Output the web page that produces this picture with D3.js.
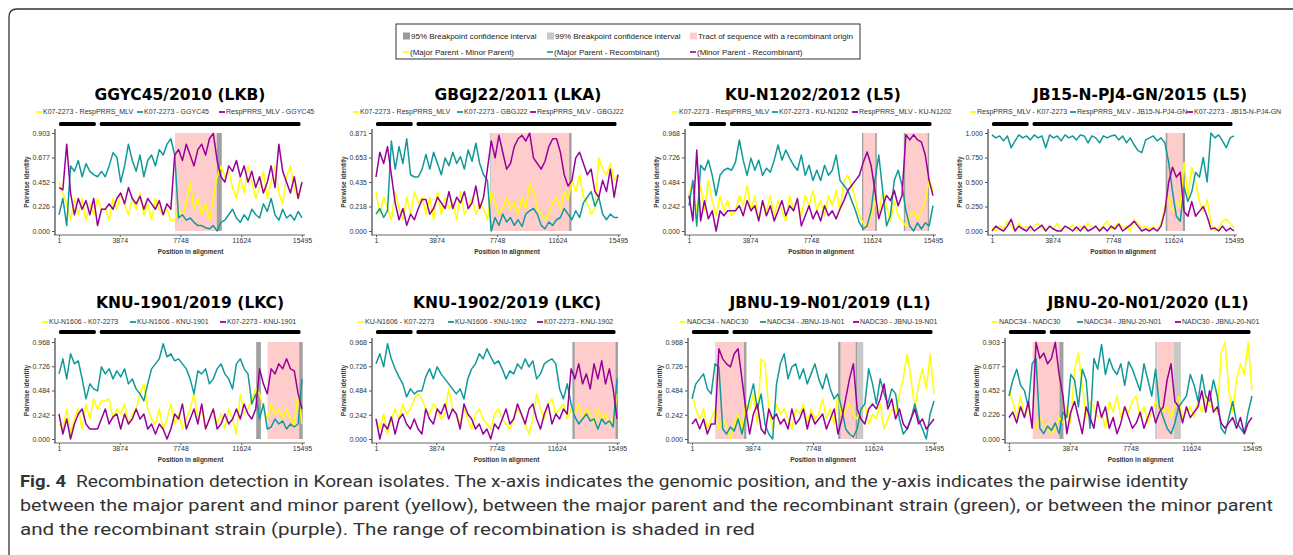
<!DOCTYPE html>
<html>
<head>
<meta charset="utf-8">
<title>Fig. 4 Recombination detection in Korean isolates</title>
<script src="https://cdn.jsdelivr.net/npm/d3@7"></script>
<style>
  body { margin: 0; background: #fff; }
  svg { display: block; font-family: "Liberation Sans", Arial, sans-serif; }
  .title { font-family: "DejaVu Sans", Verdana, sans-serif; font-weight: bold; font-size: 15.5px; text-anchor: middle; fill: #000; }
  .leg { font-size: 7px; fill: #333; }
  .key { font-size: 8px; fill: #222; }
  .tick text { font-size: 7px; fill: #333; font-family: "Liberation Sans", Arial, sans-serif; }
  .axlab { font-size: 6.5px; font-weight: bold; fill: #333; text-anchor: middle; }
  .caption { font-family: "Liberation Sans Narrow", Roboto, sans-serif; font-size: 17px; fill: #333; }
</style>
</head>
<body>
<script>
// ---- data ----
var titles = ['GGYC45/2010 (LKB)', 'GBGJ22/2011 (LKA)', 'KU-N1202/2012 (L5)', 'JB15-N-PJ4-GN/2015 (L5)',
  'KNU-1901/2019 (LKC)', 'KNU-1902/2019 (LKC)', 'JBNU-19-N01/2019 (L1)', 'JBNU-20-N01/2020 (L1)'];

var pairLabels = [
  ['K07-2273 - RespPRRS_MLV', 'K07-2273 - GGYC45', 'RespPRRS_MLV - GGYC45'],
  ['K07-2273 - RespPRRS_MLV', 'K07-2273 - GBGJ22', 'RespPRRS_MLV - GBGJ22'],
  ['K07-2273 - RespPRRS_MLV', 'K07-2273 - KU-N1202', 'RespPRRS_MLV - KU-N1202'],
  ['RespPRRS_MLV - K07-2273', 'RespPRRS_MLV - JB15-N-PJ4-GN', 'K07-2273 - JB15-N-PJ4-GN'],
  ['KU-N1606 - K07-2273', 'KU-N1606 - KNU-1901', 'K07-2273 - KNU-1901'],
  ['KU-N1606 - K07-2273', 'KU-N1606 - KNU-1902', 'K07-2273 - KNU-1902'],
  ['NADC34 - NADC30', 'NADC34 - JBNU-19-N01', 'NADC30 - JBNU-19-N01'],
  ['NADC34 - NADC30', 'NADC34 - JBNU-20-N01', 'NADC30 - JBNU-20-N01']
];

var yTicks = [
  [0, 0.226, 0.452, 0.677, 0.903],
  [0, 0.218, 0.435, 0.653, 0.871],
  [0, 0.242, 0.484, 0.726, 0.968],
  [0, 0.25, 0.5, 0.75, 1.0],
  [0, 0.242, 0.484, 0.726, 0.968],
  [0, 0.242, 0.484, 0.726, 0.968],
  [0, 0.242, 0.484, 0.726, 0.968],
  [0, 0.226, 0.452, 0.677, 0.903]
];

var xTicks = [1, 3874, 7748, 11624, 15495];
var genomeMap = [[1, 2350], [2600, 15400]];

// major parent - minor parent (yellow)
var majorMinor = [
  [.45,.35,.25,.1,.3,.15,.3,.1,.25,.15,.3,.2,.2,.1,.3,.2,.35,.25,.15,.3,.2,.35,.15,.25,.1,.3,.2,.15,.2,.1,.1,.2,.15,.25,.45,.2,.3,.15,.25,.1,.3,.5,.6,.5,.55,.4,.3,.5,.35,.6,.45,.3,.4,.55,.3,.45,.6,.35,.25,.5,.6,.4,.3,.45],
  [.35,.15,.3,.2,.1,.35,.2,.1,.3,.15,.35,.25,.3,.15,.3,.1,.35,.15,.3,.2,.25,.1,.35,.15,.2,.3,.15,.25,.2,.1,.35,.25,.15,.2,.3,.2,.25,.15,.3,.2,.42,.35,.2,.15,.1,.15,.25,.3,.2,.35,.28,.45,.35,.5,.3,.25,.15,.2,.65,.55,.5,.6,.45,.5],
  [.35,.5,.2,.45,.2,.5,.3,.15,.35,.2,.3,.15,.2,.35,.25,.45,.2,.35,.1,.3,.2,.35,.15,.3,.2,.1,.35,.2,.3,.15,.35,.25,.4,.2,.3,.15,.35,.25,.4,.2,.5,.55,.45,.3,.15,.08,.05,.15,.3,.15,.4,.25,.1,.3,.15,.1,.05,.15,.2,.12,.2,.3,.5,.4],
  [.03,0,.05,.02,.1,.05,0,.08,.03,.05,0,.05,.08,.03,0,.05,.02,.08,0,.05,.03,.06,0,.05,.02,.08,.03,.05,0,.06,.1,.02,.05,.08,.03,.05,0,.12,.08,.03,.05,.02,.05,0,.08,.25,.35,.2,.3,.25,.7,.35,.65,.5,.3,.2,.32,.08,0,.03,.1,.12,.08,.03],
  [.15,.1,.3,.05,.2,.3,.1,.35,.2,.4,.3,.38,.38,.4,.2,.3,.25,.35,.15,.25,.3,.45,.55,.3,.2,.15,.3,.1,.2,.35,.15,.25,.1,.2,.3,.45,.2,.3,.1,.2,.3,.15,.25,.1,.3,.2,.05,.45,.25,.3,.4,.5,.45,.3,.2,.35,.25,.3,.2,.3,.2,.15,.45,.15],
  [.2,.1,.25,.05,.2,.3,.2,.35,.25,.3,.4,.45,.4,.3,.25,.35,.3,.2,.25,.5,.3,.25,.15,.3,.2,.1,.25,.3,.2,.15,.1,.25,.3,.2,.15,.1,.2,.3,.25,.15,.05,.2,.45,.3,.2,.35,.4,.25,.3,.35,.2,.3,.25,.35,.2,.3,.25,.15,.3,.2,.25,.15,.2,.45],
  [.45,.3,.2,.3,.1,.2,.3,.1,.2,.15,0,.15,.25,.1,.35,.3,.45,.15,.8,.75,.3,.1,.35,.25,.3,.2,.1,.3,.25,.35,.15,.3,.2,.25,.4,.2,.3,.15,.45,.2,.3,.35,.25,.2,.3,.35,.15,.25,.2,.35,.1,.2,.3,.25,.45,.6,.85,.6,.3,.55,.7,.5,.85,.45],
  [.45,.35,.2,.4,.2,.3,.15,.1,.2,.15,.1,.05,.1,.2,.15,.3,.15,.65,.8,.5,.2,.35,.3,.2,.25,.1,.35,.25,.4,.2,.3,.25,.35,.4,.2,.3,.15,.25,.35,.3,.25,.3,.2,.3,.4,.2,.25,.3,.2,.35,.25,.4,.3,.3,.25,.8,.9,.45,.25,.55,.7,.6,.9,.45]
];

// major parent - recombinant (teal)
var majorRecomb = [
  [.15,.3,.05,.6,.55,.65,.5,.62,.55,.52,.5,.55,.5,.6,.72,.68,.45,.6,.8,.65,.55,.7,.5,.65,.7,.6,.75,.7,.8,.85,.7,.12,.15,.1,.12,.08,.05,.05,.03,.02,.05,0,.08,.1,.15,.2,.12,.08,.15,.1,.2,.15,.12,.25,.18,.3,.15,.1,.2,.12,.15,.1,.18,.12],
  [.15,.2,.12,.18,.8,.55,.75,.6,.82,.5,.48,.48,.55,.68,.55,.7,.6,.5,.65,.58,.7,.6,.66,.55,.72,.62,.78,.6,.5,.45,0,.12,.05,.15,.08,.12,.05,.1,.04,.15,.18,.2,.15,.05,.02,.08,.05,.1,.12,.2,.15,.1,.18,.12,.25,.3,.35,.22,.3,.15,.1,.15,.12,.12],
  [.25,.5,.05,.65,.6,.7,.55,.35,.55,.6,.62,.6,.68,.9,.7,.55,.72,.6,.7,.55,.62,.58,.7,.85,.7,.8,.72,.65,.6,.75,.55,.65,.5,.6,.5,.65,.55,.6,.75,.5,.45,.4,.3,.2,.08,.02,.05,.2,.5,.75,.4,.05,.15,.5,.6,.45,.2,.05,0,.08,.02,.08,.05,.25],
  [.98,.95,.97,.92,.97,.85,.92,.98,.95,.97,.93,.98,.95,.97,.85,.98,.95,.97,.92,.98,.95,.97,.93,.98,.97,.9,.97,.95,.9,.97,.95,.97,.98,.93,.97,.9,.95,.88,.82,.8,.93,.95,.97,.92,.95,.9,.7,.4,.15,.1,.45,.3,.4,.6,.55,.75,.5,1.0,.95,.98,.92,.85,.95,.97],
  [.65,.8,.6,.85,.75,.78,.6,.4,.55,.5,.48,.72,.65,.7,.6,.68,.62,.7,.55,.6,.5,.45,.38,.55,.7,.75,.8,.95,.82,.85,.78,.8,.75,.7,.6,.45,.68,.65,.7,.55,.6,.7,.75,.65,.6,.5,.75,.8,.7,.65,.35,.45,.2,.35,.1,.12,.2,.15,.18,.1,.15,.12,.15,.6],
  [.75,.85,.72,.95,.8,.7,.62,.55,.42,.5,.45,.48,.48,.62,.7,.6,.72,.65,.6,.55,.5,.45,.5,.4,.6,.7,.75,.85,.8,.9,.82,.75,.78,.7,.6,.68,.65,.75,.7,.8,.72,.78,.6,.65,.75,.78,.8,.75,.5,.4,.55,.35,.22,.15,.2,.25,.18,.2,.1,.2,.15,.18,.12,.6],
  [.4,.55,.6,.65,.5,.45,.75,.72,.1,.05,.12,.08,.2,.05,.22,.4,.55,.3,.45,.15,.05,0,.55,.75,.85,.6,.72,.75,.6,.7,.55,.65,.75,.6,.5,.65,.5,.4,.45,.3,.1,.05,.02,.1,.3,.35,.7,.55,.35,.6,.45,.35,.5,.45,.2,.05,.1,.2,.35,.2,.1,0,.25,.38],
  [.4,.55,.65,.5,.45,.3,.7,.75,.1,.05,.12,.08,.15,.05,.25,.2,.6,.55,.3,.65,.55,.1,.75,.65,.88,.6,.75,.65,.6,.7,.5,.72,.65,.55,.45,.7,.55,.4,.65,.3,.2,.1,.05,.15,.3,.35,.4,.6,.5,.35,.6,.4,.35,.55,.4,.1,.05,.2,.35,.15,.1,.05,.25,.4]
];

// minor parent - recombinant (purple)
var minorRecomb = [
  [.4,.38,.8,.35,.15,.3,.2,.28,.15,.3,.05,.2,.2,.25,.2,.3,.35,.25,.4,.3,.25,.32,.2,.3,.25,.2,.28,.15,.25,.2,.7,.75,.65,.8,.7,.6,.75,.8,.7,.85,.9,.65,.5,.45,.6,.55,.65,.5,.6,.45,.55,.4,.5,.35,.45,.6,.4,.8,.55,.45,.35,.5,.3,.45],
  [.48,.7,.6,.75,.5,.25,.1,.2,.05,.15,.1,.2,.28,.28,.15,.2,.3,.25,.2,.35,.2,.3,.25,.35,.2,.25,.4,.2,.3,.55,.8,.65,.85,.7,.55,.6,.75,.82,.85,.8,.87,.65,.6,.55,.62,.75,.82,.82,.7,.5,.4,.45,.65,.7,.6,.5,.55,.35,.3,.45,.35,.55,.3,.5],
  [.35,.1,.8,.1,.3,.12,.2,0,.2,.15,.2,.2,.2,.25,.15,.3,.2,.25,.1,.3,.15,.25,.1,.2,.3,.15,.25,.2,.32,.05,.15,.25,.12,.2,.1,.25,.15,.2,.12,.22,.3,.4,.45,.5,.55,.68,.78,.65,.4,.12,.25,.35,.3,.4,.25,.35,.95,.9,.95,.9,.88,.75,.5,.35],
  [0,.05,.02,0,.05,.12,0,.05,.02,0,.05,0,.03,.06,0,.05,.02,0,0,.05,.03,0,.04,0,.05,0,.02,.05,0,.04,0,.05,.02,.07,0,.03,.06,.1,.05,0,.02,0,.03,0,.05,.2,.5,.65,.55,.6,.2,.15,.3,.15,.2,.25,.15,.02,.03,0,.05,0,.03,0],
  [.25,.05,.2,0,.15,.25,.3,.15,.1,.1,.1,.2,.3,.15,.22,.25,.1,.25,.15,.2,.3,.2,.25,.1,.15,.05,.15,.1,0,.1,.25,.2,.35,.1,.2,.3,.15,.35,.1,.2,.3,.1,.15,.25,.15,.2,.3,.2,.35,.25,.2,.3,.7,.55,.45,.7,.65,.75,.7,.8,.7,.68,.45,.3],
  [.2,0,.15,.1,.22,.05,.2,.25,.15,.1,.2,.1,.05,.3,.2,.15,.3,.25,.35,.2,.3,.25,.1,.35,.25,.2,.1,.15,.05,.1,0,.15,.1,.2,.3,.15,.2,.35,.25,.15,.3,.35,.2,.1,.25,.35,.15,.25,.2,.3,.25,.7,.6,.75,.55,.65,.5,.75,.6,.78,.55,.7,.5,.2],
  [.15,.2,.1,.2,.05,.15,.15,.9,.8,.75,.72,.85,.9,.6,.3,.05,.25,.35,.1,.05,.3,.2,.25,.15,.2,.1,.3,.15,.2,.3,.1,.25,.15,.2,.25,.1,.2,.3,.05,.2,.4,.6,.75,.3,.2,.15,.3,.35,.3,.4,.55,.3,.4,.2,.3,.15,.1,.2,.3,.15,.2,.1,.15,.2],
  [.2,.25,.15,.3,.2,.35,.1,.9,.75,.8,.7,.75,.9,.6,.4,.05,.25,.35,.2,.05,.3,.2,.1,.35,.2,.3,.1,.2,.05,.15,.3,.2,.1,.15,.25,.1,.2,.3,.15,.25,.3,.55,.7,.35,.3,.15,.3,.2,.25,.3,.45,.25,.45,.25,.3,.15,.1,.15,.2,.1,.2,.05,.15,.2]
];

// recombinant tracts and breakpoint confidence intervals (alignment positions)
var tracts = [
  [[7395, 10059]],
  [[7364, 12365]],
  [[11079, 11822], [13732, 15154]],
  [[11231, 12212]],
  [[13299, 15345]],
  [[12716, 15420]],
  [[1560, 3441], [9510, 10472]],
  [[1511, 3214], [9470, 10492]]
];
var ci95 = [
  [[10059, 10380]],
  [[12365, 12520]],
  [[10990, 11079], [11822, 11930], [13640, 13732], [15154, 15250]],
  [[11120, 11231], [12212, 12360]],
  [[12574, 12873], [15320, 15540]],
  [[12630, 12770], [15400, 15560]],
  [[3334, 3484], [9361, 9510], [10472, 10578]],
  [[3214, 3470]]
];
var ci99 = [
  [],
  [[7290, 7364]],
  [],
  [],
  [],
  [],
  [[1500, 1560], [10578, 10963]],
  [[9321, 9470], [10492, 10960]]
];

var seriesColors = ['#ffff00', '#119999', '#990099'];
var keyLabels = ['95% Breakpoint confidence interval', '99% Breakpoint confidence interval',
  'Tract of sequence with a recombinant origin',
  '(Major Parent - Minor Parent)', '(Major Parent - Recombinant)', '(Minor Parent - Recombinant)'];

// ---- layout ----
var rows = [
  { title: 100, leg: 112, bar: 124, top: 133, zero: 231 },
  { title: 308, leg: 322, bar: 332, top: 342, zero: 439 }
];
var panels = [
  { x0: 59, x1: 302, row: 0, tx: 180, lx: [36, 137, 219] },
  { x0: 376, x1: 618, row: 0, tx: 518, lx: [353, 457, 530] },
  { x0: 689, x1: 933, row: 0, tx: 813, lx: [672, 772, 852] },
  { x0: 992, x1: 1234, row: 0, tx: 1140, lx: [970, 1070, 1187] },
  { x0: 59, x1: 302, row: 1, tx: 190, lx: [42, 130, 220] },
  { x0: 376, x1: 617, row: 1, tx: 507, lx: [358, 448, 537] },
  { x0: 692, x1: 934, row: 1, tx: 830, lx: [680, 760, 853] },
  { x0: 1009, x1: 1252, row: 1, tx: 1148, lx: [992, 1077, 1175] }
];

var svg = d3.select('body').append('svg')
  .attr('width', 1293)
  .attr('height', 555);

// outer frame
svg.append('path')
  .attr('d', 'M9,555 L9,17 Q9,9 17,9 L1293,9')
  .attr('fill', 'none')
  .attr('stroke', '#333')
  .attr('stroke-width', 1.3);

// top key box
var key = svg.append('g');
key.append('rect')
  .attr('x', 396).attr('y', 24).attr('width', 464).attr('height', 35)
  .attr('fill', '#fff').attr('stroke', '#333').attr('stroke-width', 1);
var keyCols = [403, 547, 690];
var boxFills = ['#999999', '#c8c8c8', '#ffcccc'];
keyCols.forEach(function(cx, i) {
  key.append('rect').attr('x', cx).attr('y', 32.5).attr('width', 7).attr('height', 7).attr('fill', boxFills[i]);
  key.append('text').attr('class', 'key').attr('x', cx + 8).attr('y', 39).text(keyLabels[i]);
  key.append('line').attr('x1', cx).attr('x2', cx + 6).attr('y1', 52).attr('y2', 52)
    .attr('stroke', seriesColors[i]).attr('stroke-width', 1.6);
  key.append('text').attr('class', 'key').attr('x', cx + 7).attr('y', 54.8).text(keyLabels[i + 3]);
});

panels.forEach(function(p, k) {
  var r = rows[p.row];
  var g = svg.append('g');

  var x = d3.scaleLinear().domain([1, 15495]).range([p.x0, p.x1]);
  var y = d3.scaleLinear().domain([0, yTicks[k][4]]).range([r.zero, r.top]);

  g.append('text').attr('class', 'title').attr('x', p.tx).attr('y', r.title).text(titles[k]);

  // pair legend
  pairLabels[k].forEach(function(lab, j) {
    g.append('line').attr('x1', p.lx[j]).attr('x2', p.lx[j] + 6)
      .attr('y1', r.leg).attr('y2', r.leg)
      .attr('stroke', seriesColors[j]).attr('stroke-width', 1.8);
    g.append('text').attr('class', 'leg').attr('x', p.lx[j] + 7).attr('y', r.leg + 2.4).text(lab);
  });

  // genome map
  g.selectAll('rect.orf').data(genomeMap).enter().append('rect')
    .attr('class', 'orf')
    .attr('x', function(d) { return x(d[0]); })
    .attr('width', function(d) { return x(d[1]) - x(d[0]); })
    .attr('y', r.bar - 2).attr('height', 4)
    .attr('rx', 1.5)
    .attr('fill', '#000');

  // shaded regions
  function band(data, fill) {
    g.selectAll(null).data(data).enter().append('rect')
      .attr('x', function(d) { return x(d[0]); })
      .attr('width', function(d) { return Math.max(1, x(d[1]) - x(d[0])); })
      .attr('y', r.top).attr('height', r.zero - r.top)
      .attr('fill', fill);
  }
  band(ci99[k], '#c8c8c8');
  band(tracts[k], '#ffcccc');
  band(ci95[k], '#a0a0a0');

  // series
  [majorMinor[k], majorRecomb[k], minorRecomb[k]].forEach(function(vals, j) {
    var n = vals.length;
    var line = d3.line()
      .x(function(d, i) { return x(1 + i * 15494 / (n - 1)); })
      .y(function(d) { return y(d); });
    g.append('path')
      .datum(vals)
      .attr('d', line)
      .attr('fill', 'none')
      .attr('stroke', seriesColors[j])
      .attr('stroke-width', 1.5)
      .attr('stroke-linejoin', 'round');
  });

  // y axis
  var ya = g.append('g')
    .attr('transform', 'translate(' + (p.x0 - 4) + ',0)')
    .call(d3.axisLeft(y).tickValues(yTicks[k]).tickFormat(d3.format('.3f')).tickSize(3).tickPadding(2));
  ya.select('.domain').remove();
  ya.selectAll('.tick line').attr('stroke', '#555');
  g.append('line')
    .attr('x1', p.x0 - 4).attr('x2', p.x0 - 4)
    .attr('y1', r.top - 4).attr('y2', r.zero + 4)
    .attr('stroke', '#666').attr('stroke-width', 1.5);

  // x axis
  var xa = g.append('g')
    .attr('transform', 'translate(0,' + (r.zero + 4) + ')')
    .call(d3.axisBottom(x).tickValues(xTicks).tickFormat(d3.format('d')).tickSize(2).tickPadding(1));
  xa.select('.domain').remove();
  xa.selectAll('.tick line').attr('stroke', '#555');
  g.append('line')
    .attr('x1', p.x0 - 5).attr('x2', p.x1 + 3)
    .attr('y1', r.zero + 4).attr('y2', r.zero + 4)
    .attr('stroke', '#666').attr('stroke-width', 1.2);

  g.append('text').attr('class', 'axlab')
    .attr('x', (p.x0 + p.x1) / 2 + 10).attr('y', r.zero + 23)
    .text('Position in alignment');
  g.append('text').attr('class', 'axlab')
    .attr('transform', 'translate(' + (p.x0 - 30) + ',' + ((r.top + r.zero) / 2) + ') rotate(-90)')
    .text('Pairwise identity');
});

// caption
var captionLines = [
  { x: 76, y: 487, w: 1112, t: 'Recombination detection in Korean isolates. The x-axis indicates the genomic position, and the y-axis indicates the pairwise identity' },
  { x: 20, y: 511, w: 1253, t: 'between the major parent and minor parent (yellow), between the major parent and the recombinant strain (green), or between the minor parent' },
  { x: 20, y: 535, w: 735, t: 'and the recombinant strain (purple). The range of recombination is shaded in red' }
];
svg.append('text').attr('class', 'caption')
  .attr('x', 20).attr('y', 487)
  .attr('font-weight', 'bold').attr('fill', '#222')
  .attr('textLength', 46).attr('lengthAdjust', 'spacingAndGlyphs')
  .text('Fig. 4');
captionLines.forEach(function(c) {
  svg.append('text').attr('class', 'caption')
    .attr('x', c.x).attr('y', c.y)
    .attr('textLength', c.w).attr('lengthAdjust', 'spacingAndGlyphs')
    .text(c.t);
});
</script>
</body>
</html>
